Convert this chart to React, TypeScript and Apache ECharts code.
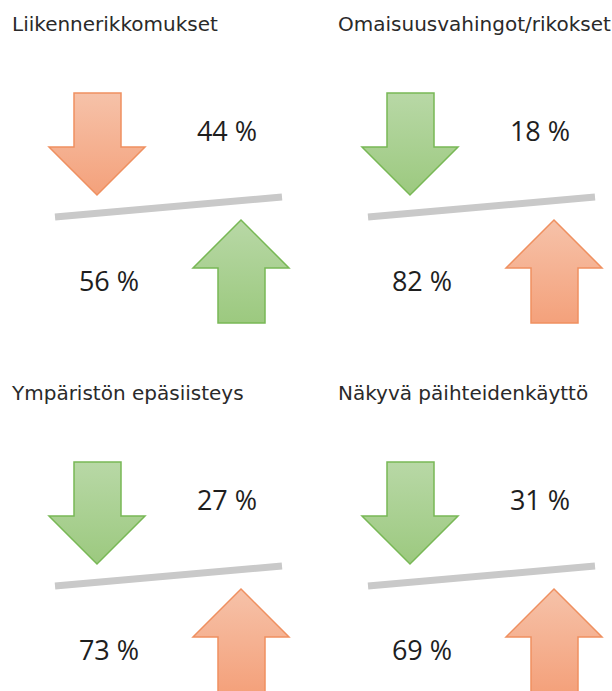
import React, { useEffect, useRef } from "react";
import * as echarts from "echarts";

// ---- data ----
const titles = [
  "Liikennerikkomukset",
  "Omaisuusvahingot/rikokset",
  "Ympäristön epäsiisteys",
  "Näkyvä päihteidenkäyttö",
];
const decreasePct = [44, 18, 27, 31];
const increasePct = [56, 82, 73, 69];
// tone of the downward arrow: "bad" = orange, "good" = green
const downArrowTone = ["bad", "good", "good", "good"];

// ---- layout ----
const panelDx = [0, 313, 0, 313];
const panelDy = [0, 0, 369, 369];
const titleX = [12, 338, 12, 338];

const ORANGE = {
  fill: () =>
    new echarts.graphic.LinearGradient(0, 0, 0, 1, [
      { offset: 0, color: "#f6c2a9" },
      { offset: 1, color: "#f4a17b" },
    ]),
  stroke: "#ef9060",
};
const GREEN = {
  fill: () =>
    new echarts.graphic.LinearGradient(0, 0, 0, 1, [
      { offset: 0, color: "#b8d8a6" },
      { offset: 1, color: "#9cc97f" },
    ]),
  stroke: "#78b855",
};

const downArrow = [
  [74, 93], [121, 93], [121, 147], [145, 147], [97, 195], [49, 147], [74, 147],
];
const upArrow = [
  [241, 220], [289, 268], [265, 268], [265, 323], [218, 323], [218, 268], [193, 268],
];

export default function App() {
  const ref = useRef<HTMLDivElement>(null);
  useEffect(() => {
    if (!ref.current) return;
    const chart = echarts.init(ref.current, undefined, { renderer: "svg" });
    const data = titles.map((t, i) => [i, decreasePct[i], increasePct[i]]);
    chart.setOption({
      animation: false,
      backgroundColor: "#ffffff",
      series: [
        {
          type: "custom",
          coordinateSystem: "none",
          data,
          renderItem: (params: any, api: any) => {
            const i = params.dataIndex;
            const dx = panelDx[i];
            const dy = panelDy[i];
            const down = api.value(1);
            const up = api.value(2);
            const dTone = downArrowTone[i] === "bad" ? ORANGE : GREEN;
            const uTone = downArrowTone[i] === "bad" ? GREEN : ORANGE;
            const shift = (pts: number[][]) => pts.map((p) => [p[0] + dx, p[1] + dy]);
            return {
              type: "group",
              children: [
                {
                  type: "text",
                  style: {
                    text: titles[i],
                    x: titleX[i],
                    y: 24 + dy,
                    fill: "#2a2a2a",
                    font: "20px 'DejaVu Sans'",
                    verticalAlign: "middle",
                    align: "left",
                  },
                },
                {
                  type: "polygon",
                  shape: { points: shift(downArrow) },
                  style: { fill: dTone.fill(), stroke: dTone.stroke, lineWidth: 1.5 },
                },
                {
                  type: "line",
                  shape: { x1: 55 + dx, y1: 217 + dy, x2: 282 + dx, y2: 197 + dy },
                  style: { stroke: "#c9c9c9", lineWidth: 7 },
                },
                {
                  type: "polygon",
                  shape: { points: shift(upArrow) },
                  style: { fill: uTone.fill(), stroke: uTone.stroke, lineWidth: 1.5 },
                },
                {
                  type: "text",
                  style: {
                    text: down + " %",
                    x: 227 + dx,
                    y: 130 + dy,
                    fill: "#1e1e1e",
                    font: "27px 'Open Sans'",
                    align: "center",
                    verticalAlign: "middle",
                  },
                },
                {
                  type: "text",
                  style: {
                    text: up + " %",
                    x: 109 + dx,
                    y: 280 + dy,
                    fill: "#1e1e1e",
                    font: "27px 'Open Sans'",
                    align: "center",
                    verticalAlign: "middle",
                  },
                },
              ],
            };
          },
        },
      ],
    });
    return () => chart.dispose();
  }, []);
  return (
    <div
      ref={ref}
      style={{ position: "absolute", left: 0, top: 0, width: 612, height: 691 }}
    />
  );
}
